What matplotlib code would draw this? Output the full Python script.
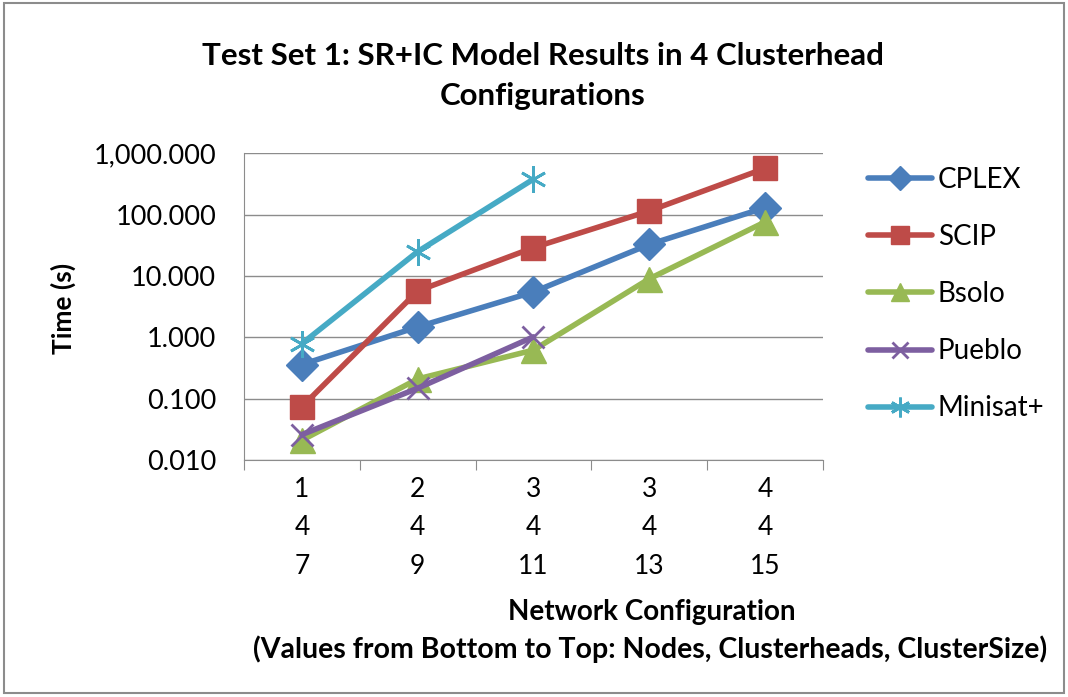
import matplotlib.pyplot as plt
from matplotlib.patches import Rectangle
from matplotlib.ticker import FixedLocator, FuncFormatter
import numpy as np

plt.rcParams['font.family'] = ['Lato', 'DejaVu Sans']

# network configurations (cluster size / clusterheads / nodes)
configs = ["1\n4\n7", "2\n4\n9", "3\n4\n11", "3\n4\n13", "4\n4\n15"]

cplex = [0.36, 1.48, 5.5, 32.7, 130]
scip = [0.074, 5.7, 29, 115, 570]
bsolo = [0.021, 0.21, 0.62, 9.0, 76]
pueblo = [0.026, 0.148, 1.02]
minisat = [0.79, 25, 380]

series = [
    ("CPLEX", cplex, "#4a7ebb", "D", 16),
    ("SCIP", scip, "#be4b48", "s", 17),
    ("Bsolo", bsolo, "#98b954", "^", 18),
    ("Pueblo", pueblo, "#7d5fa0", "x", 16),
    ("Minisat+", minisat, "#46aac5", (6, 2, 0), 19),
]

fig = plt.figure(figsize=(10.68, 6.97), dpi=100)
ax = fig.add_axes([0.2285, 0.340, 0.542, 0.440])

for name, vals, color, marker, ms in series:
    x = np.arange(len(vals))
    ax.plot(x, vals, color=color, lw=4, marker=marker, markersize=ms,
            markeredgewidth=2 if marker in ("x", (6, 2, 0)) else 1,
            markeredgecolor=color, label=name, solid_capstyle="round")

ax.set_yscale("log")
ax.set_ylim(0.01, 1000)
ax.set_xlim(-0.5, len(configs) - 0.5)
ax.yaxis.set_major_locator(FixedLocator([0.01, 0.1, 1, 10, 100, 1000]))
ax.yaxis.set_minor_locator(FixedLocator([]))
ax.yaxis.set_major_formatter(FuncFormatter(lambda v, p: "{:,.3f}".format(v)))
ax.grid(axis="y", color="#8c8c8c", lw=1)
ax.set_axisbelow(True)

ax.set_xticks(np.arange(len(configs) + 1) - 0.5)
ax.set_xticklabels([])
ax.set_xticks(np.arange(len(configs)), minor=True)
ax.set_xticklabels(configs, minor=True, linespacing=1.68)
ax.tick_params(axis="x", which="major", length=7, color="#8c8c8c")
ax.tick_params(axis="x", which="minor", length=0, pad=12, labelsize=19)
ax.tick_params(axis="y", length=0, pad=20, labelsize=19.5)

for s in ("top", "right"):
    ax.spines[s].set_visible(False)
for s in ("left", "bottom"):
    ax.spines[s].set_color("#8c8c8c")

ax.set_ylabel("Time (s)", fontsize=19, fontweight="bold")
ax.yaxis.set_label_coords(-0.29, 0.495)

fig.text(0.508, 0.891, "Test Set 1: SR+IC Model Results in 4 Clusterhead\nConfigurations",
         ha="center", va="center", fontsize=22.5, fontweight="bold", linespacing=1.55)
fig.text(0.61, 0.122, "Network Configuration", ha="center", va="center",
         fontsize=20, fontweight="bold")
fig.text(0.609, 0.068, "(Values from Bottom to Top: Nodes, Clusterheads, ClusterSize)",
         ha="center", va="center", fontsize=20.5, fontweight="bold")

ax.legend(loc="center left", bbox_to_anchor=(0.813, 0.578), bbox_transform=fig.transFigure,
          frameon=False, fontsize=20, handlelength=2.3, labelspacing=1.12,
          handletextpad=0.2, borderpad=0, borderaxespad=0, markerscale=0.75)

fig.patches.append(Rectangle((0.004, 0.006), 0.992, 0.99, transform=fig.transFigure,
                             fill=False, edgecolor="#8c8c8c", lw=1.5))

fig.savefig("out.png", dpi=100)
